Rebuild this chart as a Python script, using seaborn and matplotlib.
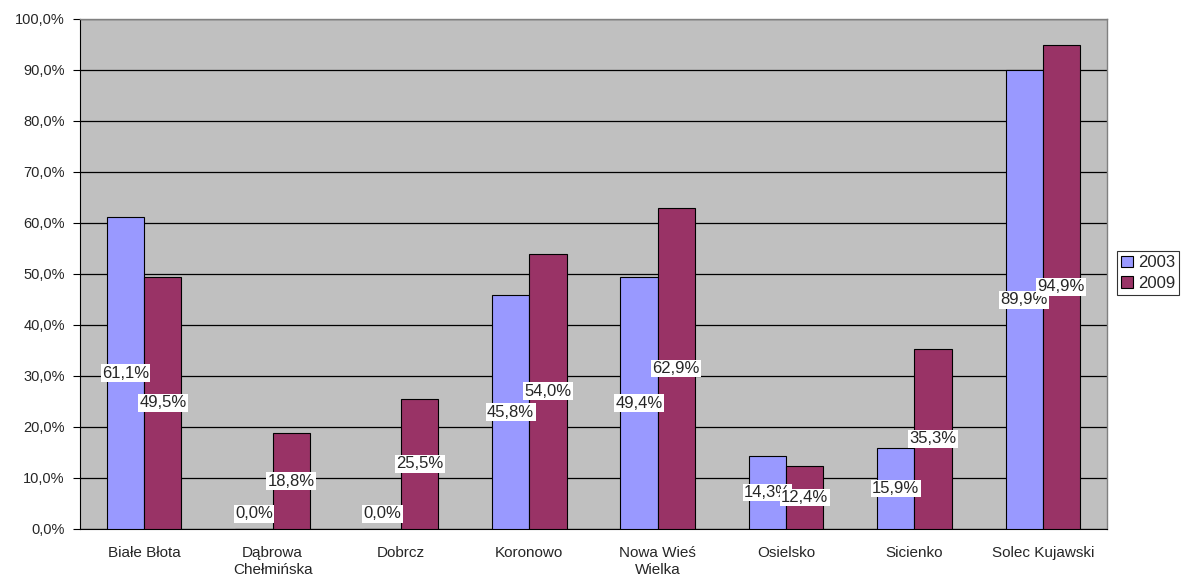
import pandas as pd
import seaborn as sns
import matplotlib.pyplot as plt
from matplotlib.patches import Patch

# Data
categories = ["Białe Błota", "Dąbrowa\nChełmińska", "Dobrcz", "Koronowo",
              "Nowa Wieś\nWielka", "Osielsko", "Sicienko", "Solec Kujawski"]
years = ["2003", "2009"]
values_2003 = [61.1, 0.0, 0.0, 45.8, 49.4, 14.3, 15.9, 89.9]
values_2009 = [49.5, 18.8, 25.5, 54.0, 62.9, 12.4, 35.3, 94.9]
colors = ["#9999FF", "#993366"]

df = pd.DataFrame({
    "gmina": categories * 2,
    "rok": [years[0]] * len(categories) + [years[1]] * len(categories),
    "value": values_2003 + values_2009,
})

sns.set_style("white")
plt.rcParams["font.family"] = ["Liberation Sans", "DejaVu Sans"]

fig = plt.figure(figsize=(11.82, 5.75), dpi=100)
ax = fig.add_axes([0.0677, 0.080, 0.8688, 0.887])
ax.set_facecolor("#C0C0C0")

sns.barplot(data=df, x="gmina", y="value", hue="rok", palette=colors,
            saturation=1, width=0.58, gap=0, edgecolor="black", linewidth=0.8,
            legend=False, ax=ax, zorder=3)

ax.set_ylim(0, 100)
ax.set_xlim(-0.5, len(categories) - 0.5)
ax.set_yticks(range(0, 101, 10))
ax.set_yticklabels([f"{v},0%" for v in range(0, 101, 10)], fontsize=10.5)
ax.yaxis.grid(True, color="black", linewidth=0.9, zorder=0)
ax.set_axisbelow(True)
ax.set_xlabel("")
ax.set_ylabel("")

# category labels in the middle, tick marks at group boundaries
ax.set_xticks(range(len(categories)))
ax.set_xticklabels(categories, fontsize=11, linespacing=1.3)
ax.tick_params(axis="x", which="major", length=0, pad=12)
ax.set_xticks([i - 0.5 for i in range(len(categories) + 1)], minor=True)
ax.tick_params(axis="x", which="minor", length=5, width=0.8, color="black",
               direction="out")
ax.tick_params(axis="y", length=5, width=0.8, color="black", direction="out",
               left=True, pad=6)

for side in ["top", "right"]:
    ax.spines[side].set_color("#808080")
    ax.spines[side].set_linewidth(1)
ax.spines["left"].set_color("black")
ax.spines["bottom"].set_color("black")

# data labels, centred in the bars, white boxes (Osielsko labels overlap in the original too)
for container in ax.containers:
    for bar in container:
        h = bar.get_height()
        x = bar.get_x() + bar.get_width() / 2
        y = max(h / 2, 3.0)
        ax.text(x, y, f"{h:.1f}%".replace(".", ","), ha="center", va="center",
                fontsize=12, zorder=5,
                bbox=dict(facecolor="white", edgecolor="none", pad=1.0))

handles = [Patch(facecolor=c, edgecolor="black", linewidth=0.8) for c in colors]
leg = ax.legend(handles, years, loc="upper left", bbox_to_anchor=(1.01, 0.545),
                frameon=True, fancybox=False, fontsize=12, handlelength=0.7,
                handleheight=0.7, handletextpad=0.3, borderpad=0.25,
                labelspacing=0.35, borderaxespad=0)
leg.get_frame().set_edgecolor("black")
leg.get_frame().set_linewidth(0.8)

fig.savefig("out.png", dpi=100)
